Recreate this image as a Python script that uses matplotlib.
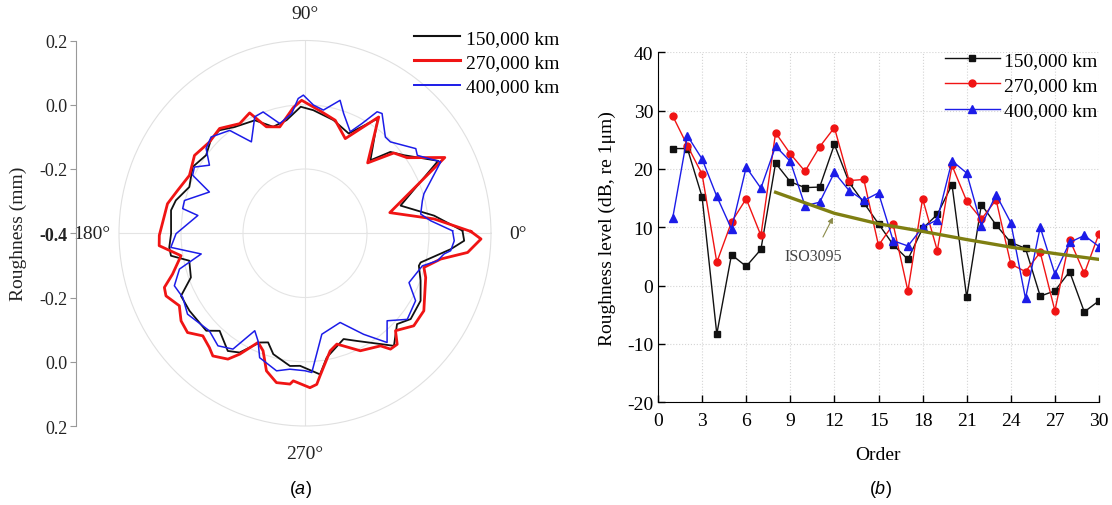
import numpy as np
import matplotlib.pyplot as plt

plt.rcParams['font.family'] = ['Liberation Serif', 'DejaVu Serif']
plt.rcParams['mathtext.fontset'] = 'custom'
plt.rcParams['mathtext.it'] = 'Liberation Sans:italic'
plt.rcParams['mathtext.rm'] = 'Liberation Sans'
plt.rcParams['axes.unicode_minus'] = False

W, H = 1112, 506

mileage_labels = ['150,000 km', '270,000 km', '400,000 km']
line_colors = ['#111111', '#f01414', '#1c1ce8']

# (a) wheel radial profile: angle in degrees, roughness in mm
angle_150k = [0.9, 7.5, 15.6, 27.7, 37.3, 42.6, 47.1, 56.7, 65.6, 75.4, 86.0, 92.0,
              99.6, 107.2, 114.7, 124.4, 130.7, 135.8, 142.7, 150.3, 158.9, 166.2,
              170.6, 180.2, 185.7, 189.2, 192.9, 200.5, 206.0, 212.9, 223.6, 227.8,
              235.8, 240.4, 246.8, 250.7, 254.8, 263.3, 267.8, 276.3, 280.3, 290.7,
              296.6, 305.2, 309.3, 316.4, 321.9, 330.6, 338.4, 344.6, 346.3, 354.0, 357.4]
rough_150k = [0.108, 0.020, -0.080, 0.085, 0.001, -0.026, -0.090, 0.027, -0.059, -0.036,
              -0.016, -0.006, -0.043, -0.053, -0.013, 0.001, 0.023, 0.022, 0.001, 0.017,
              0.000, 0.029, 0.038, 0.032, 0.040, 0.038, -0.017, -0.007, 0.045, 0.044,
              0.040, 0.010, 0.043, 0.027, -0.030, -0.040, -0.010, 0.016, 0.013, 0.042,
              -0.007, -0.048, -0.025, 0.022, 0.053, 0.010, 0.033, 0.028, 0.001, -0.019,
              -0.016, 0.073, 0.114]

angle_270k = [0.6, 6.1, 13.2, 27.6, 35.5, 41.1, 47.3, 56.7, 66.2, 74.5, 82.7, 91.5,
              95.5, 103.8, 110.6, 115.5, 121.7, 130.2, 137.3, 145.8, 154.2, 162.0,
              168.3, 180.8, 184.7, 189.9, 196.6, 200.4, 203.5, 209.1, 214.3, 219.2,
              224.1, 229.1, 232.1, 237.6, 240.8, 246.0, 249.7, 253.8, 258.8, 264.1,
              265.3, 271.9, 274.6, 276.2, 282.5, 286.6, 296.0, 304.8, 307.4, 310.7,
              313.9, 320.6, 327.8, 340.5, 344.5, 349.6, 353.5, 358.2]
rough_270k = [0.135, 0.019, -0.119, 0.109, 0.005, -0.020, -0.102, 0.033, -0.078, -0.035,
              -0.016, 0.014, -0.007, -0.059, -0.046, 0.015, 0.001, 0.027, 0.019, 0.031,
              0.014, 0.032, 0.053, 0.070, 0.072, 0.006, 0.046, 0.084, 0.089, 0.064,
              0.084, 0.089, 0.059, 0.071, 0.084, 0.064, 0.031, -0.028, -0.010, 0.046,
              0.074, 0.072, 0.061, 0.081, 0.072, 0.047, -0.025, -0.040, 0.007, 0.027,
              0.054, 0.056, 0.021, 0.054, 0.053, 0.013, -0.002, 0.045, 0.128, 0.168]

angle_400k = [0.9, 5.5, 9.1, 15.0, 17.8, 26.9, 33.8, 36.4, 45.9, 49.1, 56.3, 58.4,
              61.7, 65.2, 71.5, 74.7, 81.2, 86.1, 90.7, 93.0, 96.6, 103.4, 109.7,
              114.1, 121.3, 127.2, 135.3, 140.4, 145.5, 150.0, 153.5, 157.4, 165.3,
              169.0, 170.9, 180.2, 185.8, 190.9, 195.4, 201.2, 206.9, 213.6, 224.6,
              231.3, 237.2, 241.9, 245.7, 249.3, 257.9, 263.4, 270.0, 272.9, 279.8,
              292.2, 301.0, 307.9, 314.2, 320.9, 329.5, 335.4, 345.0, 348.7, 351.8,
              353.4, 357.2]
rough_400k = [0.076, 0.007, -0.022, -0.008, 0.003, 0.091, 0.036, 0.044, -0.004, -0.004,
              0.048, 0.044, -0.012, -0.052, -0.007, 0.029, -0.012, 0.000, 0.030, 0.020,
              -0.025, -0.049, 0.001, -0.003, -0.067, 0.002, 0.026, 0.014, -0.026, 0.012,
              0.005, -0.066, 0.002, 0.002, -0.050, 0.016, 0.035, -0.059, 0.020, 0.052,
              0.042, 0.055, 0.033, 0.049, 0.029, -0.056, -0.032, 0.014, 0.038, 0.026,
              0.028, 0.034, -0.081, -0.100, -0.033, 0.031, -0.020, 0.025, 0.014, -0.031,
              -0.008, 0.036, 0.053, 0.073, 0.082]

radial_tick_labels = ['0.2', '0.0', '-0.2', '-0.4', '-0.2', '0.0', '0.2']

# (b) roughness level per wheel order
orders = list(range(1, 31))
level_150k = [23.5, 23.5, 15.2, -8.3, 5.3, 3.3, 6.2, 21.0, 17.8, 16.8, 16.9, 24.2, 17.7,
              14.2, 10.6, 7.0, 4.5, 9.8, 12.2, 17.3, -2.0, 13.9, 10.4, 7.4, 6.4, -1.8,
              -0.9, 2.4, -4.5, -2.6]
level_270k = [29.1, 24.0, 19.1, 4.0, 10.9, 14.9, 8.6, 26.2, 22.6, 19.6, 23.8, 27.1, 18.0,
              18.2, 6.9, 10.5, -0.9, 14.9, 6.0, 20.6, 14.5, 11.4, 14.7, 3.7, 2.4, 5.7,
              -4.3, 7.9, 2.1, 8.9]
level_400k = [11.6, 25.7, 21.7, 15.3, 9.7, 20.3, 16.7, 23.9, 21.3, 13.7, 14.3, 19.4, 16.3,
              14.6, 15.9, 7.7, 6.8, 10.0, 11.3, 21.4, 19.3, 10.3, 15.6, 10.8, -2.2, 10.0,
              2.0, 7.4, 8.6, 6.7]
iso_orders = [8, 10, 12, 15, 18, 21, 24, 27, 30]
iso_level = [16.0, 14.2, 12.4, 10.6, 9.3, 7.9, 6.6, 5.5, 4.5]


def closed(angles, values):
    """Return theta/r arrays with the first point repeated at the end."""
    theta = np.deg2rad(np.append(angles, angles[0] + 360))
    r = np.append(values, values[0])
    return theta, r


def draw_polar(fig):
    ax = fig.add_axes([119 / W, 1 - 427 / H, 372 / W, 385.5 / H], projection='polar')
    ax.set_aspect('auto')
    ax.set_ylim(-0.4, 0.2)

    profiles = [(angle_150k, rough_150k, 1.3),
                (angle_270k, rough_270k, 2.0),
                (angle_400k, rough_400k, 1.1)]
    for (ang, val, lw), color, label in zip(profiles, line_colors, mileage_labels):
        theta, r = closed(ang, val)
        ax.plot(theta, r, color=color, lw=lw, label=label, solid_joinstyle='round')

    ax.set_rgrids([-0.2, 0.0], labels=['', ''])
    ax.set_thetagrids([0, 90, 180, 270], labels=['0°', '90°', '180°', '270°'],
                      fontsize=14, color='#222222')
    ax.tick_params(axis='x', pad=9)
    ax.grid(color='#e4e4e4', lw=0.8)
    ax.spines['polar'].set_color('#e0e0e0')
    ax.spines['polar'].set_linewidth(0.8)

    leg = ax.legend(loc='upper left', bbox_to_anchor=(414 / W, 1 - 30 / H),
                    bbox_transform=fig.transFigure, frameon=False, fontsize=14,
                    handlelength=2.35, handletextpad=0.3, labelspacing=0.35,
                    borderaxespad=0, borderpad=0)
    for line, lw in zip(leg.get_lines(), [1.5, 2.2, 1.4]):
        line.set_linewidth(lw)

    # separate axis carrying the radial scale on the left
    rax = fig.add_axes([76 / W, 1 - 427 / H, 0.0001, 385.5 / H])
    rax.set_ylim(-0.6, 0.6)
    rax.set_yticks(np.linspace(0.6, -0.6, 7))
    rax.set_yticklabels(radial_tick_labels, fontsize=13, color='#222222')
    rax.get_yticklabels()[3].set_fontweight('bold')
    rax.set_xticks([])
    for side in ['top', 'right', 'bottom']:
        rax.spines[side].set_visible(False)
    rax.spines['left'].set_color('#999999')
    rax.tick_params(axis='y', direction='out', length=4, color='#999999', pad=2)
    rax.patch.set_alpha(0)
    fig.text(18 / W, 1 - 234 / H, 'Roughness (mm)', rotation=90, ha='center',
             va='center', fontsize=14, color='#222222')


def draw_orders(fig):
    ax = fig.add_axes([658 / W, 1 - 403.3 / H, 441 / W, 350 / H])
    series = [level_150k, level_270k, level_400k]
    markers = [('s', 4.5), ('o', 5.0), ('^', 5.5)]
    for vals, (mk, ms), color, label in zip(series, markers, line_colors, mileage_labels):
        ax.plot(orders, vals, color=color, lw=1.0, marker=mk, ms=ms, label=label)

    ax.plot(iso_orders, iso_level, color='#7f7f12', lw=2.4)
    ax.annotate('ISO3095', xy=(11.9, 11.7), xytext=(10.55, 5.0), ha='center', va='center',
                fontsize=11.5, color='#444444',
                arrowprops=dict(arrowstyle='-|>', color='#8b8b4a', lw=0.8,
                                mutation_scale=8, shrinkA=7, shrinkB=0))

    ax.set_xlim(0, 30)
    ax.set_ylim(-20, 40)
    ax.set_xticks(range(0, 31, 3))
    ax.set_yticks(range(-20, 41, 10))
    ax.tick_params(direction='in', length=5, labelsize=14, width=1)
    ax.tick_params(axis='x', pad=7)
    ax.grid(True, ls=':', color='#d4d4d4', lw=0.8)
    for side in ['top', 'right']:
        ax.spines[side].set_visible(False)
    ax.set_xlabel('Order', fontsize=14, labelpad=12)
    ax.set_ylabel('Roughness level (dB, re 1μm)', fontsize=14, labelpad=8)

    ax.legend(loc='upper right', bbox_to_anchor=(1098 / W, 1 - 52 / H),
              bbox_transform=fig.transFigure, frameon=False, fontsize=14,
              handlelength=2.8, handletextpad=0.25, labelspacing=0.4,
              borderaxespad=0, borderpad=0)


def main():
    fig = plt.figure(figsize=(W / 100, H / 100), dpi=100)
    draw_polar(fig)
    draw_orders(fig)
    fig.text(300 / W, 1 - 490 / H, '(' + r'$\mathit{a}$' + ')', ha='center', va='center',
             fontsize=13, family='Liberation Sans')
    fig.text(880 / W, 1 - 490 / H, '(' + r'$\mathit{b}$' + ')', ha='center', va='center',
             fontsize=13, family='Liberation Sans')
    fig.savefig('out.png', dpi=100)
    plt.close(fig)


if __name__ == "__main__":
    main()
